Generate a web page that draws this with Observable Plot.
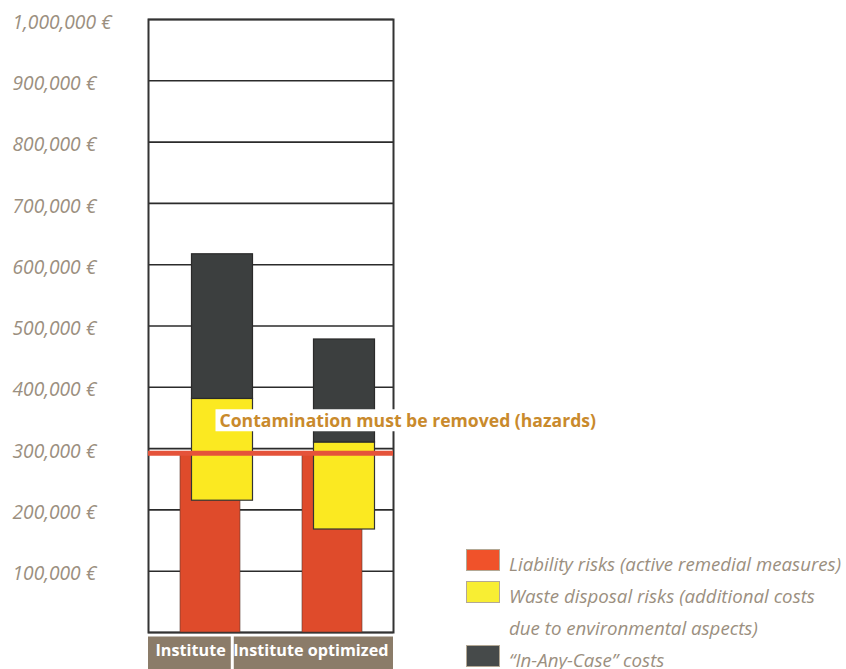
<!DOCTYPE html>
<html><head><meta charset="utf-8">
<script src="https://cdn.jsdelivr.net/npm/d3@7"></script>
<script src="https://cdn.jsdelivr.net/npm/@observablehq/plot@0.6"></script>
<style>
body{margin:0;background:#fff;}
#wrap{position:relative;width:846px;height:669px;overflow:hidden;font-family:"Open Sans",sans-serif;}
#wrap svg{position:absolute;left:0;top:0;}
#legend{position:absolute;left:466px;top:548px;}
.item{display:flex;align-items:flex-start;}
.sw{width:32px;height:20px;border:1px solid #b3a895;margin-top:1px;margin-right:9px;flex:none;}
.lt{font-style:italic;font-size:18.7px;line-height:32px;color:#9b8f80;white-space:pre-line;}
.item.last .lt{line-height:18px;margin-top:7px;}
</style></head><body><div id="wrap"></div>
<script>
const categories = ["Institute", "Institute optimized"];
const liabilityLow = [0, 0];
const liabilityHigh = [292500, 292500];
const wasteLow = [215000, 168000];
const wasteHigh = [381000, 310000];
const anyCaseLow = [381000, 310000];
const anyCaseHigh = [617000, 478000];
const hazardLevel = 292500;
const annotationText = "Contamination must be removed (hazards)";
const annotationY = 344000;
const gridValues = [0, 100000, 200000, 300000, 400000, 500000, 600000, 700000, 800000, 900000, 1000000];
const yTickValues = [100000, 200000, 300000, 400000, 500000, 600000, 700000, 800000, 900000, 1000000];
const legendLabels = ["Liability risks (active remedial measures)", "Waste disposal risks (additional costs\ndue to environmental aspects)", "\u201CIn-Any-Case\u201D costs"];
const colors = {liability: "#df4b2b", waste: "#fbe921", anyCase: "#3c3f3f"};
const legendColors = ["#f0522a", "#f8ee33", "#464a4a"];

const rows = categories.map((c, i) => ({c, l1: liabilityLow[i], l2: liabilityHigh[i], w1: wasteLow[i], w2: wasteHigh[i], a1: anyCaseLow[i], a2: anyCaseHigh[i]}));

const textColor = "#9b8f80";
const plot = Plot.plot({
  width: 846, height: 669,
  marginLeft: 148, marginRight: 453, marginTop: 19, marginBottom: 37,
  style: {fontFamily: "'Open Sans', sans-serif", background: "white", overflow: "visible"},
  x: {domain: categories, padding: 0, axis: null},
  y: {domain: [0, 1000000], axis: null},
  marks: [
    Plot.ruleY(gridValues, {stroke: "#2b2b2b", strokeWidth: 1.6}),
    Plot.frame({stroke: "#333", strokeWidth: 2}),
    Plot.barY(rows, {x: "c", y1: "l1", y2: "l2", fill: colors.liability, stroke: "#5a3a30", strokeWidth: 0.6, insetLeft: 31, insetRight: 31}),
    Plot.barY(rows, {x: "c", y1: "w1", y2: "w2", fill: colors.waste, stroke: "#333", strokeWidth: 1.2, insetLeft: 42.5, insetRight: 18.5}),
    Plot.barY(rows, {x: "c", y1: "a1", y2: "a2", fill: colors.anyCase, stroke: "#2a2a2a", strokeWidth: 1.2, insetLeft: 42.5, insetRight: 18.5}),
    Plot.ruleY([hazardLevel], {stroke: "#e5533a", strokeWidth: 5}),
    Plot.text([annotationText], {frameAnchor: "left", y: () => annotationY, text: d => d, dx: 71, textAnchor: "start", fill: "#c98a2c", fontWeight: "bold", fontSize: 17.6}),
    Plot.axisY(yTickValues, {tickSize: 0, tickPadding: 0, textAnchor: "start", dx: -136, dy: 3, fontSize: 19.2, fontStyle: "italic", fill: textColor, tickFormat: d => d3.format(",")(d) + " \u20AC"}),
    Plot.text([categories[0]], {frameAnchor: "bottom-left", text: d => d, dx: 7, dy: 23, textAnchor: "start", fill: "white", fontWeight: "bold", fontSize: 16.2}),
    Plot.text([categories[1]], {frameAnchor: "bottom-right", text: d => d, dx: -5, dy: 23, textAnchor: "end", fill: "white", fontWeight: "bold", fontSize: 16.2})
  ]
});
const wrap = document.getElementById("wrap");
wrap.appendChild(plot);

const NS = "http://www.w3.org/2000/svg";
const texts = Array.from(plot.querySelectorAll("text"));
function findText(s) { return texts.find(t => t.textContent === s); }
function topLevel(el) { let e = el; while (e.parentNode && e.parentNode !== plot) e = e.parentNode; return e; }
function addRect(beforeEl, x, y, w, h, fill) {
  const r = document.createElementNS(NS, "rect");
  r.setAttribute("x", x); r.setAttribute("y", y); r.setAttribute("width", w); r.setAttribute("height", h);
  r.setAttribute("fill", fill);
  plot.insertBefore(r, topLevel(beforeEl));
}
function bboxOf(el) {
  const b = el.getBBox();
  const m = el.getCTM() || {a: 1, d: 1, e: 0, f: 0};
  return {x: b.x * m.a + m.e, y: b.y * m.d + m.f, width: b.width * m.a, height: b.height * m.d};
}
const ann = findText(annotationText);
if (ann) {
  const b = bboxOf(ann);
  addRect(ann, b.x - 4, b.y + 1, b.width + 8, b.height - 2, "white");
}
const left = 148, right = 846 - 453, bottom = 669 - 37;
const t1 = findText(categories[0]);
const t2 = findText(categories[1]);
if (t1 && t2) {
  const b1 = bboxOf(t1);
  const r1 = b1.x + b1.width + 5;
  addRect(t1, left, bottom + 4.5, r1 - left, 40, "#8b7c69");
  addRect(t2, r1 + 3, bottom + 4.5, right - r1 - 3, 40, "#8b7c69");
}

const lg = document.createElement("div");
lg.id = "legend";
legendLabels.forEach((t, i) => {
  const it = document.createElement("div"); it.className = "item" + (i === legendLabels.length - 1 ? " last" : "");
  const sw = document.createElement("div"); sw.className = "sw"; sw.style.background = legendColors[i];
  const tx = document.createElement("div"); tx.className = "lt"; tx.textContent = t;
  it.appendChild(sw); it.appendChild(tx); lg.appendChild(it);
});
wrap.appendChild(lg);
</script>
</body></html>
